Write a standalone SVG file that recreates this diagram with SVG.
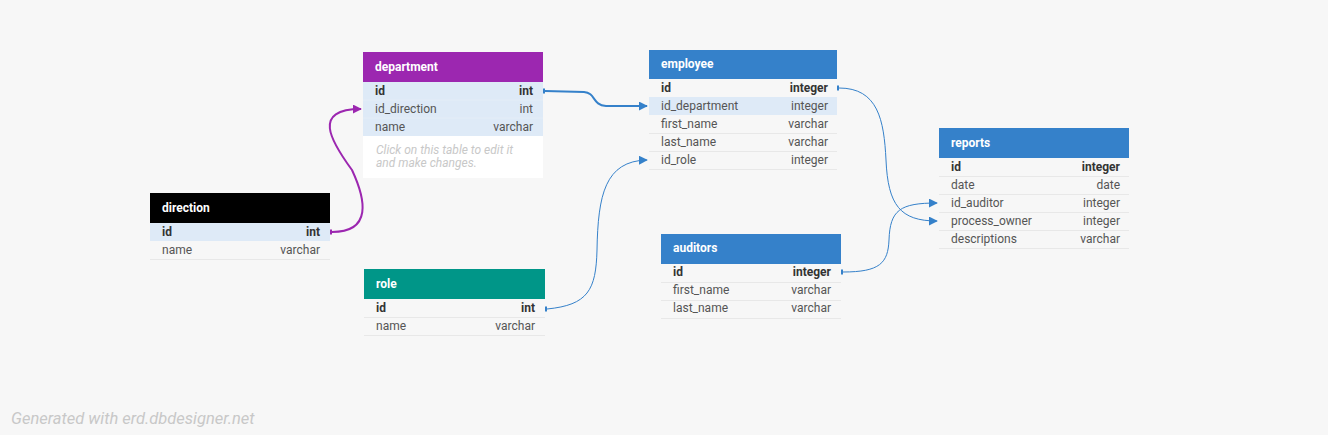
<svg xmlns="http://www.w3.org/2000/svg" width="1328" height="435" viewBox="0 0 1328 435">
<defs>
<style>
.hd{font-family:Roboto,"Liberation Sans",sans-serif;font-size:12px;font-weight:bold;fill:#fff}
.f{font-family:Roboto,"Liberation Sans",sans-serif;font-size:12px;fill:#555}
.t{font-family:Roboto,"Liberation Sans",sans-serif;font-size:12px;fill:#555;text-anchor:end}
.k{font-weight:bold;fill:#333}
.row{fill:#f7f7f7}
.hl{fill:#deeaf7}
.sep{stroke:#e8e8e8;stroke-width:1}
.note{font-family:Roboto,"Liberation Sans",sans-serif;font-size:12px;font-style:italic;fill:#c8c8c8}
.cb{fill:none;stroke:#3581ca}
.cp{fill:none;stroke:#9c27b0;stroke-width:2}
</style>
<marker id="ab" viewBox="0 0 10 10" refX="9" refY="5" markerWidth="9" markerHeight="9" markerUnits="userSpaceOnUse" orient="auto"><path d="M0,0 L10,5 L0,10 Z" fill="#3581ca"/></marker>
<marker id="ap" viewBox="0 0 10 10" refX="9" refY="5" markerWidth="9" markerHeight="9" markerUnits="userSpaceOnUse" orient="auto"><path d="M0,0 L10,5 L0,10 Z" fill="#9c27b0"/></marker>
</defs>
<rect width="1328" height="435" fill="#f7f7f7"/>

<g id="connectors">
<path class="cb" stroke-width="2" d="M545,91 L584,92 C596,93 592,105 606,106 L647,106" marker-end="url(#ab)"/>
<rect x="543" y="88.5" width="2" height="5" fill="#3581ca"/>
<path class="cp" d="M332,232 C372,232 366,200 352,170 C330,140 312,109 361,109" marker-end="url(#ap)"/>
<rect x="330" y="229.5" width="2" height="5" fill="#9c27b0"/>
<path class="cb" d="M547,309 C588,305 596,290 597,250 C598,195 605,161 647,160" marker-end="url(#ab)"/>
<rect x="545" y="306.5" width="2" height="5" fill="#3581ca"/>
<path class="cb" d="M839,88 C878,88 884,120 886,160 C888,205 900,221 937,221" marker-end="url(#ab)"/>
<rect x="837" y="85.5" width="2" height="5" fill="#3581ca"/>
<path class="cb" d="M843,272 C880,272 888,263 889,240 C890,210 900,203 937,203" marker-end="url(#ab)"/>
<rect x="841" y="269.5" width="2" height="5" fill="#3581ca"/>
</g>

<g id="direction">
<rect x="150" y="193" width="180" height="30" fill="#000"/>
<text class="hd" x="162" y="212">direction</text>
<rect class="hl" x="150" y="223" width="180" height="18"/>
<rect class="row" x="150" y="241" width="180" height="18"/>
<line class="sep" x1="150" y1="259.5" x2="330" y2="259.5"/>
<text class="f k" x="162" y="236">id</text><text class="t k" x="320" y="236">int</text>
<text class="f" x="162" y="254">name</text><text class="t" x="320" y="254">varchar</text>
</g>

<g id="department">
<rect x="363" y="52" width="180" height="30" fill="#9c27b0"/>
<text class="hd" x="375" y="71">department</text>
<rect class="hl" x="363" y="82" width="180" height="54"/>
<line x1="363" y1="100" x2="543" y2="100" stroke="#e4edf7"/>
<line x1="363" y1="118" x2="543" y2="118" stroke="#e4edf7"/>
<rect x="363" y="136" width="180" height="42" fill="#fff"/>
<text class="f k" x="375" y="95">id</text><text class="t k" x="533" y="95">int</text>
<text class="f" x="375" y="113">id_direction</text><text class="t" x="533" y="113">int</text>
<text class="f" x="375" y="131">name</text><text class="t" x="533" y="131">varchar</text>
<text class="note" x="376" y="154">Click on this table to edit it</text>
<text class="note" x="376" y="167">and make changes.</text>
</g>

<g id="employee">
<rect x="649" y="50" width="188" height="29" fill="#3581ca"/>
<text class="hd" x="661" y="68">employee</text>
<rect class="row" x="649" y="79" width="188" height="18"/>
<rect class="hl" x="649" y="97" width="188" height="18"/>
<line class="sep" x1="649" y1="133.5" x2="837" y2="133.5"/>
<line class="sep" x1="649" y1="151.5" x2="837" y2="151.5"/>
<line class="sep" x1="649" y1="169.5" x2="837" y2="169.5"/>
<text class="f k" x="661" y="92">id</text><text class="t k" x="828" y="92">integer</text>
<text class="f" x="661" y="110">id_department</text><text class="t" x="828" y="110">integer</text>
<text class="f" x="661" y="128">first_name</text><text class="t" x="828" y="128">varchar</text>
<text class="f" x="661" y="146">last_name</text><text class="t" x="828" y="146">varchar</text>
<text class="f" x="661" y="164">id_role</text><text class="t" x="828" y="164">integer</text>
</g>

<g id="reports">
<rect x="939" y="128" width="190" height="30" fill="#3581ca"/>
<text class="hd" x="951" y="147">reports</text>
<line class="sep" x1="939" y1="176.5" x2="1129" y2="176.5"/>
<line class="sep" x1="939" y1="194.5" x2="1129" y2="194.5"/>
<line class="sep" x1="939" y1="212.5" x2="1129" y2="212.5"/>
<line class="sep" x1="939" y1="230.5" x2="1129" y2="230.5"/>
<line class="sep" x1="939" y1="248.5" x2="1129" y2="248.5"/>
<text class="f k" x="951" y="171">id</text><text class="t k" x="1120" y="171">integer</text>
<text class="f" x="951" y="189">date</text><text class="t" x="1120" y="189">date</text>
<text class="f" x="951" y="207">id_auditor</text><text class="t" x="1120" y="207">integer</text>
<text class="f" x="951" y="225">process_owner</text><text class="t" x="1120" y="225">integer</text>
<text class="f" x="951" y="243">descriptions</text><text class="t" x="1120" y="243">varchar</text>
</g>

<g id="role">
<rect x="364" y="269" width="181" height="30" fill="#009688"/>
<text class="hd" x="376" y="288">role</text>
<line class="sep" x1="364" y1="317.5" x2="545" y2="317.5"/>
<line class="sep" x1="364" y1="335.5" x2="545" y2="335.5"/>
<text class="f k" x="376" y="312">id</text><text class="t k" x="535" y="312">int</text>
<text class="f" x="376" y="330">name</text><text class="t" x="535" y="330">varchar</text>
</g>

<g id="auditors">
<rect x="661" y="234" width="180" height="30" fill="#3581ca"/>
<text class="hd" x="673" y="252">auditors</text>
<line class="sep" x1="661" y1="282.5" x2="841" y2="282.5"/>
<line class="sep" x1="661" y1="300.5" x2="841" y2="300.5"/>
<line class="sep" x1="661" y1="318.5" x2="841" y2="318.5"/>
<text class="f k" x="673" y="276">id</text><text class="t k" x="831" y="276">integer</text>
<text class="f" x="673" y="294">first_name</text><text class="t" x="831" y="294">varchar</text>
<text class="f" x="673" y="312">last_name</text><text class="t" x="831" y="312">varchar</text>
</g>

<text x="11" y="424" font-family="Roboto,'Liberation Sans',sans-serif" font-size="16.5" font-style="italic" fill="#c8c8c8">Generated with erd.dbdesigner.net</text>
</svg>
